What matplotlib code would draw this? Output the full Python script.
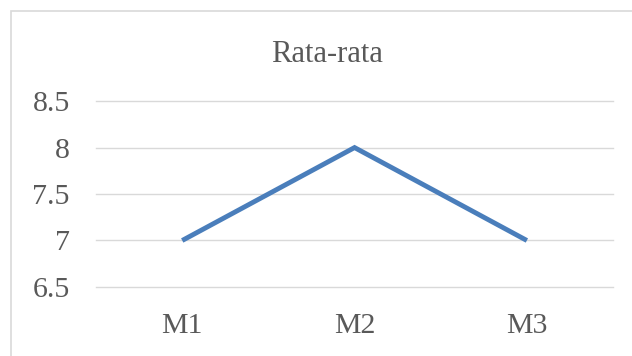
import matplotlib
matplotlib.use("Agg")
import matplotlib.pyplot as plt
from matplotlib.patches import Rectangle

categories = ["M1", "M2", "M3"]
values = [7, 8, 7]
y_ticks = [6.5, 7, 7.5, 8, 8.5]

plt.rcParams["font.family"] = ["Liberation Serif", "DejaVu Serif"]
TEXT = "#595959"
GRID = "#D9D9D9"

fig = plt.figure(figsize=(6.32, 3.56), dpi=100)
ax = fig.add_axes([0.152, 0.194, 0.818, 0.522])

# chart-area border (left and top edges visible)
fig.patches.append(Rectangle((11 / 632, -0.1), 1.2, 1 - 11 / 356 + 0.1,
                             transform=fig.transFigure, fill=False,
                             edgecolor=GRID, linewidth=1.2))

x = range(len(categories))
ax.plot(x, values, color="#4A7EBB", linewidth=3.5,
        solid_capstyle="butt", solid_joinstyle="miter")

ax.set_xlim(-0.5, len(categories) - 0.5)
ax.set_ylim(y_ticks[0], y_ticks[-1])
ax.set_yticks(y_ticks)
ax.set_yticklabels([f"{v:g}" for v in y_ticks])
ax.set_xticks(list(x))
ax.set_xticklabels(categories)
ax.grid(axis="y", color=GRID, linewidth=1)
for gl in ax.get_ygridlines():
    gl.set_clip_on(False)
ax.set_axisbelow(True)
for s in ax.spines.values():
    s.set_visible(False)
ax.tick_params(length=0, labelsize=21.5, colors=TEXT)
ax.tick_params(axis="y", pad=19)
ax.tick_params(axis="x", pad=19)

fig.text(327 / 632, 1 - 62 / 356, "Rata-rata", ha="center", va="baseline",
         fontsize=22, color=TEXT)

fig.savefig("out.png", dpi=100, facecolor="white")
